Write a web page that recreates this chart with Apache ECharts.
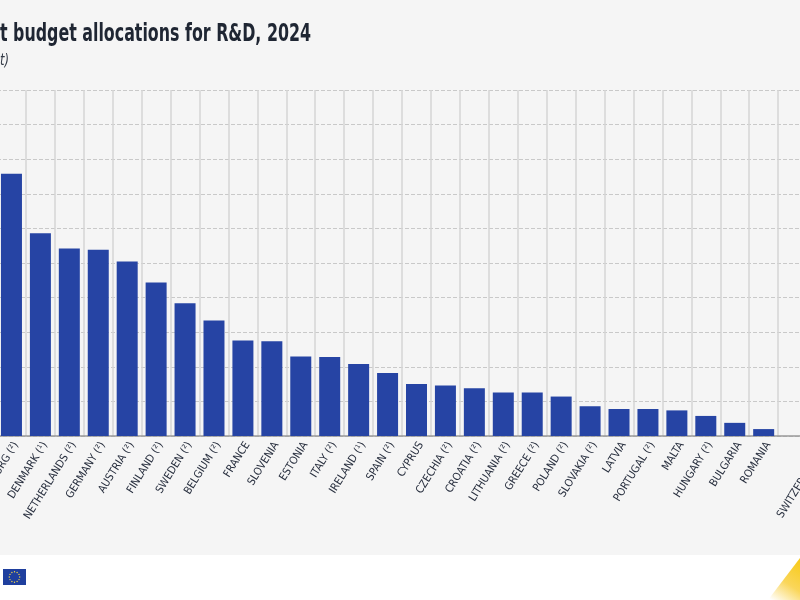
<!DOCTYPE html>
<html>
<head>
<meta charset="utf-8">
<style>html,body{margin:0;padding:0;background:#fff}#chart{width:800px;height:600px}</style>
<script src="https://cdn.jsdelivr.net/npm/echarts@6/dist/echarts.min.js"></script>
</head>
<body>
<div id="chart"></div>
<script>
var categories = ['LUXEMBOURG (²)','DENMARK (¹)','NETHERLANDS (²)','GERMANY (²)','AUSTRIA (²)','FINLAND (²)','SWEDEN (²)','BELGIUM (²)','FRANCE','SLOVENIA','ESTONIA','ITALY (²)','IRELAND (¹)','SPAIN (²)','CYPRUS','CZECHIA (²)','CROATIA (²)','LITHUANIA (²)','GREECE (²)','POLAND (²)','SLOVAKIA (²)','LATVIA','PORTUGAL (²)','MALTA','HUNGARY (²)','BULGARIA','ROMANIA','','SWITZERLAND (²)'];
var values = [3.79,2.93,2.71,2.69,2.52,2.22,1.92,1.67,1.38,1.37,1.15,1.14,1.04,0.91,0.75,0.73,0.69,0.63,0.63,0.57,0.43,0.39,0.39,0.37,0.29,0.19,0.10,null,null];
var titleText = 't budget allocations for R&D, 2024';
var subtitleText = 't)';

var narrow = '"Liberation Sans Narrow","DejaVu Sans Condensed","Liberation Sans",sans-serif';
var myChart = echarts.init(document.getElementById('chart'));

// ring of stars on the flag
var stars = [];
for (var i = 0; i < 12; i++) {
    var a = i * Math.PI / 6;
    stars.push({
        type: 'circle',
        shape: { cx: 14.5 + 5.2 * Math.cos(a), cy: 577 + 5.2 * Math.sin(a), r: 0.7 },
        style: { fill: '#f2d64b' }
    });
}

var option = {
    animation: false,
    backgroundColor: '#ffffff',
    graphic: [
        { type: 'rect', z: -10, silent: true, shape: { x: 0, y: 0, width: 800, height: 555 }, style: { fill: '#f5f5f5' } },
        { type: 'rect', shape: { x: 3, y: 569, width: 23, height: 16 }, style: { fill: '#1f3f9e' } },
        { type: 'polygon', shape: { points: [[800, 558], [800, 600], [768, 600]] },
          style: { fill: new echarts.graphic.LinearGradient(1, 0, 0.1, 1, [
              { offset: 0, color: '#f7c914' }, { offset: 0.55, color: '#fad65a' }, { offset: 1, color: '#ffffff' }
          ]) } },
        // condensed display face is not installed, so the title is squeezed sideways
        { type: 'text', x: 0, y: 34.5, scaleX: 0.705,
          style: { text: titleText, font: 'bold 25px ' + narrow, fill: '#1f2633', verticalAlign: 'middle' } },
        { type: 'text', x: 0, y: 61, scaleX: 0.85,
          style: { text: subtitleText, font: 'italic 15px ' + narrow, fill: '#333a46', verticalAlign: 'middle' } }
    ].concat(stars),
    grid: { left: -3, right: -36, top: 90, bottom: 164, containLabel: false, outerBoundsMode: 'none' },
    xAxis: {
        type: 'category',
        data: categories,
        axisLine: { lineStyle: { color: '#999999', width: 1.5 } },
        axisTick: { show: false },
        axisLabel: { interval: 0, rotate: 58, margin: 4, verticalAlign: 'top', fontFamily: narrow, fontSize: 11, color: '#2a3140' },
        splitLine: { show: true, interval: 0, lineStyle: { color: '#d4d4d4', width: 1.5 } }
    },
    yAxis: {
        type: 'value',
        min: 0,
        max: 5,
        interval: 0.5,
        axisLine: { show: false },
        axisTick: { show: false },
        axisLabel: { show: false },
        splitLine: { lineStyle: { color: '#c9c9c9', type: 'dashed', width: 1 } }
    },
    series: [{
        type: 'bar',
        data: values,
        barWidth: 21,
        itemStyle: { color: '#2644a4' }
    }]
};
myChart.setOption(option);
</script>
</body>
</html>
